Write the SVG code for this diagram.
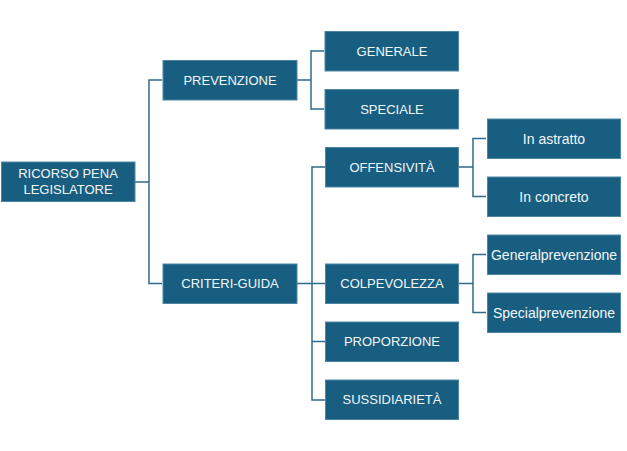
<svg xmlns="http://www.w3.org/2000/svg" width="627" height="451" viewBox="0 0 627 451">
<style>
.box{fill:#185e80;stroke:#4d86a3;stroke-width:1}
.t{font-family:"Liberation Sans",Arial,sans-serif;font-size:13px;fill:#f2f6f8;text-anchor:middle}
.tl{font-family:"Liberation Sans",Arial,sans-serif;font-size:14px;fill:#f2f6f8;text-anchor:middle}
.c{fill:none;stroke:#2f6b8a;stroke-width:1.5}
</style>
<rect width="627" height="451" fill="#ffffff"/>
<g id="connectors">
<path class="c" d="M135,182 H149 M162,80 H149 V283.5 H162"/>
<path class="c" d="M297,80 H311 M324,51 H311 V109 H324"/>
<path class="c" d="M297,283.5 H325 M325,167 H312 V400 H325 M312,341.5 H325"/>
<path class="c" d="M459,167 H473 M486,138.5 H473 V196.5 H486"/>
<path class="c" d="M459,283.5 H473 M486,254.5 H473 V312.5 H486"/>
</g>
<g id="root"><rect class="box" x="1.5" y="162" width="133.5" height="39.5"/><text class="t" x="68" y="178">RICORSO PENA</text><text class="t" x="68" y="194">LEGISLATORE</text></g>
<g id="prevenzione"><rect class="box" x="163" y="60.5" width="134" height="39.5"/><text class="t" x="230" y="84.7">PREVENZIONE</text></g>
<g id="criteri"><rect class="box" x="163" y="264" width="134" height="39.5"/><text class="t" x="230" y="288.2">CRITERI-GUIDA</text></g>
<g id="generale"><rect class="box" x="325" y="31.5" width="133.5" height="39.5"/><text class="t" x="392" y="55.7">GENERALE</text></g>
<g id="speciale"><rect class="box" x="325" y="89.5" width="133.5" height="39.5"/><text class="t" x="392" y="113.7">SPECIALE</text></g>
<g id="offensivita"><rect class="box" x="325.5" y="147.5" width="133" height="39.5"/><text class="t" x="392" y="171.7">OFFENSIVITÀ</text></g>
<g id="colpevolezza"><rect class="box" x="325.5" y="264" width="133" height="39.5"/><text class="t" x="392" y="288.2">COLPEVOLEZZA</text></g>
<g id="proporzione"><rect class="box" x="325.5" y="322" width="133" height="39.5"/><text class="t" x="392" y="346.2">PROPORZIONE</text></g>
<g id="sussidiarieta"><rect class="box" x="325.5" y="380" width="133" height="39.5"/><text class="t" x="392" y="404.2">SUSSIDIARIETÀ</text></g>
<g id="astratto"><rect class="box" x="487.5" y="119" width="133" height="39.5"/><text class="tl" x="554" y="143.5">In astratto</text></g>
<g id="concreto"><rect class="box" x="487.5" y="177" width="133" height="39.5"/><text class="tl" x="554" y="201.5">In concreto</text></g>
<g id="generalprev"><rect class="box" x="487.5" y="235" width="133" height="39.5"/><text class="tl" x="554" y="259.5">Generalprevenzione</text></g>
<g id="specialprev"><rect class="box" x="487.5" y="293" width="133" height="39.5"/><text class="tl" x="554" y="317.5">Specialprevenzione</text></g>
</svg>
